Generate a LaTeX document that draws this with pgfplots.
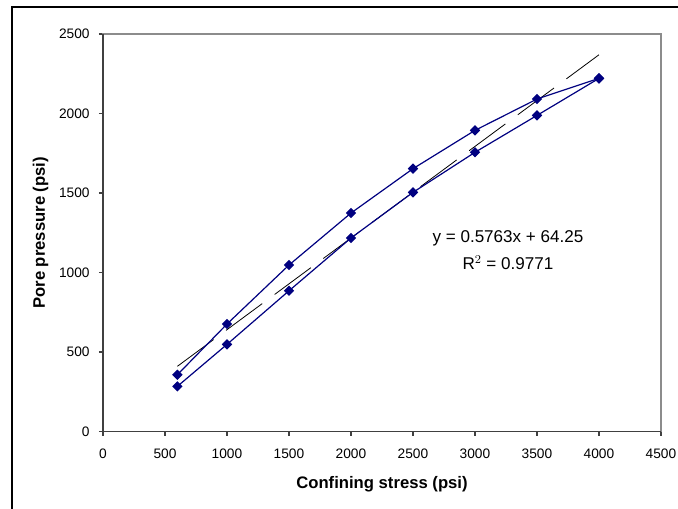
\documentclass[border=0pt]{standalone}
\usepackage{pgfplots}
\pgfplotsset{compat=1.18}
\usepackage{fontspec}
\setmainfont{Liberation Sans}
\definecolor{serblue}{HTML}{000080}
\definecolor{axdark}{HTML}{404040}
\definecolor{axgray}{HTML}{8C8C8C}
\begin{document}
\begin{tikzpicture}[x=1pt,y=1pt]
\useasboundingbox (0,0) rectangle (508.5,381);
\draw[black, line width=1.5pt] (9,-2) -- (9,375.75) -- (510,375.75);
\begin{axis}[
  at={(77.25pt,57.375pt)}, anchor=south west,
  scale only axis, width=418.5pt, height=298.125pt,
  xmin=0, xmax=4500, ymin=0, ymax=2500,
  xtick={0,500,...,4500}, ytick={0,500,...,2500},
  tick pos=left, tick align=outside, major tick length=3pt,
  tick style={axdark, line width=0.9pt},
  axis line style={axgray, line width=1.1pt},
  /pgf/number format/assume math mode=true,
  /pgf/number format/1000 sep={},
  ticklabel style={font=\fontsize{10.3}{12}\selectfont},
  xticklabel style={anchor=north, yshift=-6.3pt},
  yticklabel style={anchor=east, xshift=-3.5pt},
  xlabel={\textbf{Confining stress (psi)}},
  ylabel={\textbf{Pore pressure (psi)}},
  label style={font=\fontsize{12.5}{15}\selectfont},
  xlabel style={at={(axis description cs:0.5,0)}, anchor=center, yshift=-39.4pt},
  ylabel style={at={(axis description cs:-0.1121,0.5)}, anchor=center},
  clip=false,
]
\draw[axdark, line width=1.1pt] (rel axis cs:0,1) -- (rel axis cs:0,0) -- (rel axis cs:1,0);
\addplot[black, line width=0.6pt, dash pattern=on 33.75pt off 11.6pt] coordinates {(600,410.03) (4000,2369.45)};
\addplot[serblue, line width=0.9pt, mark=square*, mark size=2.3pt, mark options={solid, fill=serblue, rotate=45}] coordinates {
(600,357) (1000,676) (1500,1047) (2000,1374) (2500,1653) (3000,1894) (3500,2091) (4000,2221)};
\addplot[serblue, line width=0.9pt, mark=square*, mark size=2.3pt, mark options={solid, fill=serblue, rotate=45}] coordinates {
(600,284) (1000,548) (1500,885) (2000,1217) (2500,1504) (3000,1756) (3500,1988) (4000,2221)};
\node[font=\fontsize{12.8}{15}\selectfont] at (axis cs:3266,1217) {y = 0.5763x + 64.25};
\node[font=\fontsize{12.8}{15}\selectfont] at (axis cs:3266,1060) {R$^2$ = 0.9771};
\end{axis}
\end{tikzpicture}
\end{document}
